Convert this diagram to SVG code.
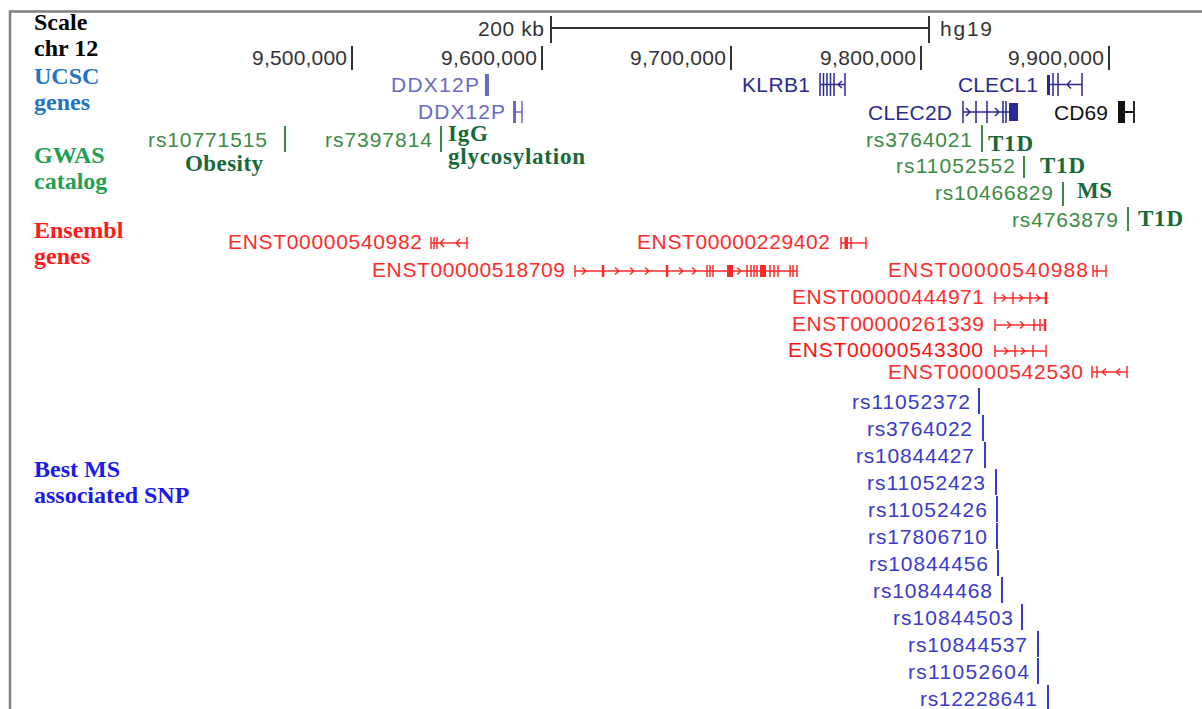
<svg xmlns="http://www.w3.org/2000/svg" width="1202" height="709" viewBox="0 0 1202 709">
<style>
.lbl{font-family:"Liberation Serif","Times New Roman",serif;font-weight:bold;font-size:24px}
.ann{font-family:"Liberation Serif","Times New Roman",serif;font-weight:bold;font-size:23px;fill:#17693a}
.s{font-family:"Liberation Sans",Arial,sans-serif;font-size:21px}
.e{text-anchor:end}
.k{fill:#333}
.uc1{fill:#6a6ac4}
.uc2{fill:#2a2a90}
.gw{fill:#3d8a45}
.en{fill:#ff2b2b}
.sn{fill:#3a3acb}
.tk{stroke:#333;stroke-width:2;fill:none}
.tg{stroke:#3d8a45;stroke-width:2;fill:none}
.tb{stroke:#3a3acb;stroke-width:2;fill:none}
.gl1{stroke:#6a6ac4;stroke-width:1.5;fill:none}
.gl2{stroke:#2a2a90;stroke-width:1.5;fill:none}
.glk{stroke:#111;stroke-width:1.8;fill:none}
.gr{stroke:#ff2b2b;stroke-width:1.5;fill:none}
.grt{stroke:#ff2b2b;stroke-width:2.5;fill:none}
</style>

<!-- frame -->
<path d="M10,709 V11.5 H1202" fill="none" stroke="#808080" stroke-width="2.5"/>

<!-- track labels -->
<g id="track-labels">
<text class="lbl" x="34" y="30" fill="#000">Scale</text>
<text class="lbl" x="34" y="56" fill="#000">chr 12</text>
<text class="lbl" x="34" y="84" fill="#1f74c8">UCSC</text>
<text class="lbl" x="34" y="110" fill="#1f74c8">genes</text>
<text class="lbl" x="34" y="163" fill="#1ea055">GWAS</text>
<text class="lbl" x="34" y="189" fill="#1ea055">catalog</text>
<text class="lbl" x="34" y="238" fill="#ff1a1a">Ensembl</text>
<text class="lbl" x="34" y="264" fill="#ff1a1a">genes</text>
<text class="lbl" x="34" y="477" fill="#1a1af0">Best MS</text>
<text class="lbl" x="34" y="503" fill="#1a1af0">associated SNP</text>
</g>

<!-- scale -->
<g id="scale">
<text class="s e k" x="544" y="36" textLength="66">200 kb</text>
<path class="tk" d="M551,28 H929 M551,16 V43 M929,16 V43" stroke-width="1.5"/>
<text class="s k" x="940" y="36" textLength="52">hg19</text>
</g>

<g id="positions">
<text class="s e k" x="347" y="65" textLength="95">9,500,000</text>
<path class="tk" d="M352,46 V70"/>
<text class="s e k" x="537" y="65" textLength="96">9,600,000</text>
<path class="tk" d="M542,46 V70"/>
<text class="s e k" x="726" y="65" textLength="96">9,700,000</text>
<path class="tk" d="M731,46 V70"/>
<text class="s e k" x="916" y="65" textLength="96">9,800,000</text>
<path class="tk" d="M921,46 V70"/>
<text class="s e k" x="1104" y="65" textLength="96">9,900,000</text>
<path class="tk" d="M1109,46 V70"/>
</g>

<!-- UCSC genes -->
<g id="ucsc-DDX12P-1">
<text class="s e uc1" x="479" y="92" textLength="88">DDX12P</text>
<rect x="485" y="74" width="4" height="22" class="uc1"/>
</g>
<g id="ucsc-DDX12P-2">
<text class="s e uc1" x="505" y="119" textLength="87">DDX12P</text>
<rect x="513" y="101" width="3" height="22" class="uc1"/>
<path class="gl1" d="M522,101 V123 M515,112 H522"/>
</g>
<g id="ucsc-KLRB1">
<text class="s e uc2" x="810" y="92" textLength="68">KLRB1</text>
<path class="gl2" d="M820,73 V96 M823.5,73 V96 M827,73 V96 M830.5,73 V96 M834,73 V96 M845,73 V96 M820,84.5 H845 M842,81 L838,84.5 L842,88"/>
</g>
<g id="ucsc-CLECL1">
<text class="s e uc2" x="1038" y="92" textLength="80">CLECL1</text>
<rect x="1047" y="75" width="3" height="20" class="uc2"/>
<path class="gl2" d="M1053,73 V96 M1058,73 V96 M1082,73 V96 M1047,84.5 H1082 M1071,80.5 L1067,84.5 L1071,88.5"/>
</g>
<g id="ucsc-CLEC2D">
<text class="s e uc2" x="952" y="120" textLength="84">CLEC2D</text>
<path class="gl2" d="M963,101 V123 M976,101 V123 M987,101 V123 M1003,101 V123 M1006,101 V123 M963,112 H1010 M966,108 L970,112 L966,116 M995,108 L999,112 L995,116"/>
<rect x="1009" y="103" width="9" height="18" class="uc2"/>
</g>
<g id="ucsc-CD69">
<text class="s e" x="1108" y="120" fill="#111" textLength="54">CD69</text>
<rect x="1118" y="101" width="7" height="22" fill="#111"/>
<path class="glk" d="M1125,112 H1134 M1134,101 V123"/>
</g>

<!-- GWAS catalog -->
<g id="gwas-rs10771515">
<text class="s e gw" x="267" y="147" textLength="119">rs10771515</text>
<path class="tg" d="M285,126 V152"/>
<text class="ann" x="185" y="171" textLength="78">Obesity</text>
</g>
<g id="gwas-rs7397814">
<text class="s e gw" x="432" y="147" textLength="107">rs7397814</text>
<path class="tg" d="M441,126 V152"/>
<text class="ann" x="448" y="141" textLength="40">IgG</text>
<text class="ann" x="448" y="164" textLength="137">glycosylation</text>
</g>
<g id="gwas-rs3764021">
<text class="s e gw" x="972" y="147" textLength="106">rs3764021</text>
<path class="tg" d="M982,125 V152"/>
<text class="ann" x="988" y="151" textLength="45">T1D</text>
</g>
<g id="gwas-rs11052552">
<text class="s e gw" x="1015" y="173" textLength="119">rs11052552</text>
<path class="tg" d="M1024,156 V178"/>
<text class="ann" x="1040" y="173" textLength="45">T1D</text>
</g>
<g id="gwas-rs10466829">
<text class="s e gw" x="1053" y="200" textLength="118">rs10466829</text>
<path class="tg" d="M1063,182 V206"/>
<text class="ann" x="1077" y="198" textLength="35">MS</text>
</g>
<g id="gwas-rs4763879">
<text class="s e gw" x="1118" y="227" textLength="106">rs4763879</text>
<path class="tg" d="M1128,207 V231"/>
<text class="ann" x="1138" y="226" textLength="45">T1D</text>
</g>

<!-- Ensembl genes -->
<g id="ens-ENST00000540982">
<text class="s e en" x="422" y="249" textLength="194">ENST00000540982</text>
<path class="gr" d="M431,237 V249 M434,237 V249 M437,237 V249 M467,237 V249 M431,243 H467 M444,239 L440,243 L444,247 M460,239 L456,243 L460,247"/>
</g>
<g id="ens-ENST00000229402">
<text class="s e en" x="830" y="249" textLength="193">ENST00000229402</text>
<rect x="844.5" y="237" width="3.5" height="12" class="en"/>
<path class="gr" d="M841,237 V249 M851,237 V249 M866,237 V249 M841,243 H866"/>
</g>
<g id="ens-ENST00000518709">
<text class="s e en" x="565" y="277" textLength="193">ENST00000518709</text>
<path class="gr" d="M575,265 V277 M575,271 H797 M582,267.5 L586,271 L582,274.5 M615,267.5 L619,271 L615,274.5 M630,267.5 L634,271 L630,274.5 M645,267.5 L649,271 L645,274.5 M679,267.5 L683,271 L679,274.5 M692,267.5 L696,271 L692,274.5 M737,267.5 L741,271 L737,274.5 M707,265 V277 M710,265 V277 M713,265 V277 M747,265 V277 M751,265 V277 M754,265 V277 M757,265 V277 M770,265 V277 M774,265 V277 M778,265 V277 M790,265 V277 M793,265 V277 M797,265 V277"/>
<path class="grt" d="M603,265 V277 M667,265 V277"/>
<rect x="727" y="265" width="6" height="12" class="en"/>
<rect x="760" y="265" width="6" height="12" class="en"/>
</g>
<g id="ens-ENST00000540988">
<text class="s e en" x="1088" y="277" textLength="200">ENST00000540988</text>
<path class="gr" d="M1093,265 V277 M1097,265 V277 M1093,271 H1106 M1106,265 V277"/>
</g>
<g id="ens-ENST00000444971">
<text class="s e en" x="984" y="304" textLength="192">ENST00000444971</text>
<path class="gr" d="M995,292 V304 M995,298 H1046 M1002,294.5 L1006,298 L1002,301.5 M1013,292 V304 M1019,294.5 L1023,298 L1019,301.5 M1030,292 V304 M1036,294.5 L1040,298 L1036,301.5"/>
<path class="grt" d="M1046,292 V304"/>
</g>
<g id="ens-ENST00000261339">
<text class="s e en" x="984" y="331" textLength="192">ENST00000261339</text>
<path class="gr" d="M995,319 V331 M995,325 H1045 M1007,321.5 L1011,325 L1007,328.5 M1020,321.5 L1024,325 L1020,328.5 M1034,319 V331 M1040,319 V331"/>
<path class="grt" d="M1045,319 V331"/>
</g>
<g id="ens-ENST00000543300">
<text class="s e" x="983" y="357" fill="#ff1010" textLength="195">ENST00000543300</text>
<path class="gr" d="M995,345 V357 M995,351 H1046 M1004,347.5 L1008,351 L1004,354.5 M1015,345 V357 M1021,347.5 L1025,351 L1021,354.5 M1033,345 V357 M1046,345 V357"/>
</g>
<g id="ens-ENST00000542530">
<text class="s e en" x="1083" y="379" textLength="195">ENST00000542530</text>
<path class="gr" d="M1092,366 V378 M1097,366 V378 M1092,372 H1127 M1106,368.5 L1102,372 L1106,375.5 M1120,368.5 L1116,372 L1120,375.5 M1127,366 V378"/>
</g>

<!-- Best MS associated SNPs -->
<g id="snp-rs11052372"><text class="s e sn" x="970" y="409" textLength="118">rs11052372</text><path class="tb" d="M979,388 V414"/></g>
<g id="snp-rs3764022"><text class="s e sn" x="972" y="436" textLength="105">rs3764022</text><path class="tb" d="M983,415 V441"/></g>
<g id="snp-rs10844427"><text class="s e sn" x="974" y="463" textLength="118">rs10844427</text><path class="tb" d="M985,442 V468"/></g>
<g id="snp-rs11052423"><text class="s e sn" x="985" y="490" textLength="118">rs11052423</text><path class="tb" d="M996,469 V495"/></g>
<g id="snp-rs11052426"><text class="s e sn" x="987" y="517" textLength="119">rs11052426</text><path class="tb" d="M997,496 V522"/></g>
<g id="snp-rs17806710"><text class="s e sn" x="987" y="544" textLength="119">rs17806710</text><path class="tb" d="M997,523 V549"/></g>
<g id="snp-rs10844456"><text class="s e sn" x="988" y="571" textLength="119">rs10844456</text><path class="tb" d="M998,550 V576"/></g>
<g id="snp-rs10844468"><text class="s e sn" x="992" y="598" textLength="119">rs10844468</text><path class="tb" d="M1002,577 V603"/></g>
<g id="snp-rs10844503"><text class="s e sn" x="1013" y="625" textLength="120">rs10844503</text><path class="tb" d="M1022,604 V630"/></g>
<g id="snp-rs10844537"><text class="s e sn" x="1027" y="652" textLength="119">rs10844537</text><path class="tb" d="M1038,631 V657"/></g>
<g id="snp-rs11052604"><text class="s e sn" x="1029" y="679" textLength="121">rs11052604</text><path class="tb" d="M1038,658 V684"/></g>
<g id="snp-rs12228641"><text class="s e sn" x="1037" y="706" textLength="117">rs12228641</text><path class="tb" d="M1048,685 V709"/></g>

<g id="connectors"></g>
</svg>
